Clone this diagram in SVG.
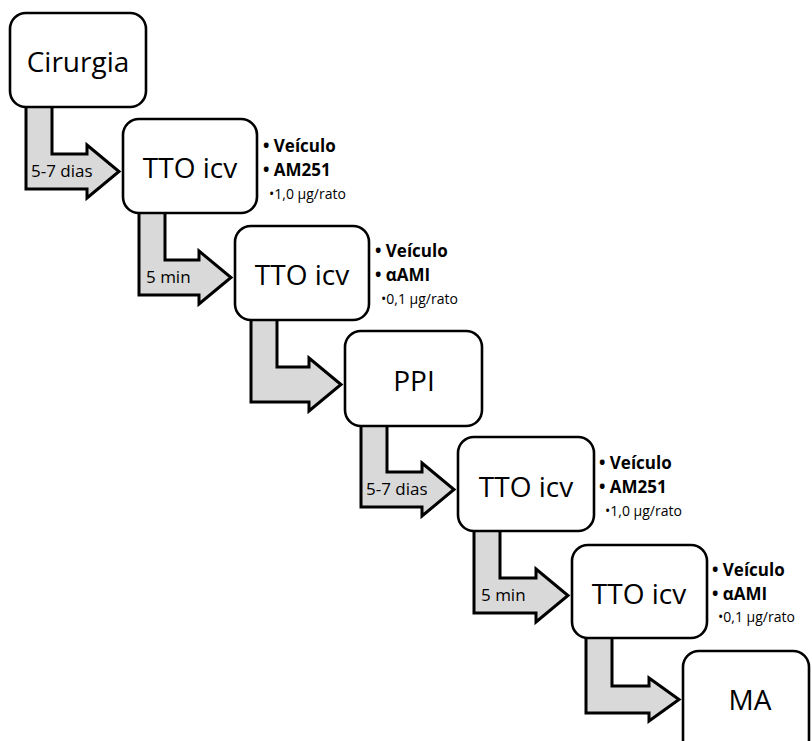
<svg xmlns="http://www.w3.org/2000/svg" width="812" height="741" viewBox="0 0 812 741">
  <style>
    .box { fill: #ffffff; stroke: #000000; stroke-width: 2.6; }
    .flow { fill: #d9d9d9; stroke: #000000; stroke-width: 3; stroke-linejoin: miter; }
    .lbl { font-family: "Open Sans", "Noto Sans", sans-serif; font-size: 28px; fill: #000000; text-anchor: middle; }
    .step { font-family: "Open Sans", "Noto Sans", sans-serif; font-size: 17px; fill: #000000; }
    .drug { font-family: "Open Sans", "Noto Sans", sans-serif; font-size: 17px; font-weight: 700; fill: #000000; }
    .dose { font-family: "Open Sans", "Noto Sans", sans-serif; font-size: 14px; fill: #000000; }
  </style>

  <!-- bent flow arrows between consecutive steps -->
  <g id="connectors">
    <polygon class="flow" points="26,103 52,103 52,154 87,154 87,145 119,171.5 87,198 87,189 26,189"/>
    <polygon class="flow" points="139,209 165,209 165,260 199,260 199,251 231,277.5 199,304 199,295 139,295"/>
    <polygon class="flow" points="251,316 277,316 277,367 309,367 309,358 341,384.5 309,411 309,402 251,402"/>
    <polygon class="flow" points="361,421 387,421 387,472 422,472 422,463 454,489.5 422,516 422,507 361,507"/>
    <polygon class="flow" points="474,527 500,527 500,578 536,578 536,569 568,595.5 536,622 536,613 474,613"/>
    <polygon class="flow" points="586,630 612,630 612,686 649,686 649,678 679,699.5 649,721 649,713 586,713"/>
    <text class="step" x="31" y="177">5-7 dias</text>
    <text class="step" x="146" y="283">5 min</text>
    <text class="step" x="366" y="495">5-7 dias</text>
    <text class="step" x="481" y="601">5 min</text>
  </g>

  <g id="cirurgia">
    <rect class="box" x="10" y="13" width="136" height="94" rx="16"/>
    <text class="lbl" x="78" y="72">Cirurgia</text>
  </g>

  <g id="tto1">
    <rect class="box" x="123" y="119" width="134" height="94" rx="16"/>
    <text class="lbl" x="190" y="178">TTO icv</text>
    <text class="drug" x="263" y="152">• Veículo</text>
    <text class="drug" x="263" y="176">• AM251</text>
    <text class="dose" x="269" y="199">•1,0 µg/rato</text>
  </g>

  <g id="tto2">
    <rect class="box" x="235" y="226" width="134" height="94" rx="16"/>
    <text class="lbl" x="302" y="285">TTO icv</text>
    <text class="drug" x="375" y="257">• Veículo</text>
    <text class="drug" x="375" y="281">• αAMI</text>
    <text class="dose" x="381" y="304">•0,1 µg/rato</text>
  </g>

  <g id="ppi">
    <rect class="box" x="345" y="331" width="137" height="95" rx="16"/>
    <text class="lbl" x="414" y="391">PPI</text>
  </g>

  <g id="tto3">
    <rect class="box" x="458" y="437" width="136" height="94" rx="16"/>
    <text class="lbl" x="526" y="497">TTO icv</text>
    <text class="drug" x="599" y="469">• Veículo</text>
    <text class="drug" x="599" y="493">• AM251</text>
    <text class="dose" x="605" y="516">•1,0 µg/rato</text>
  </g>

  <g id="tto4">
    <rect class="box" x="572" y="545" width="135" height="93" rx="16"/>
    <text class="lbl" x="639" y="604">TTO icv</text>
    <text class="drug" x="712" y="576">• Veículo</text>
    <text class="drug" x="712" y="600">• αAMI</text>
    <text class="dose" x="718" y="622">•0,1 µg/rato</text>
  </g>

  <g id="ma">
    <rect class="box" x="683" y="651" width="126" height="110" rx="16"/>
    <text class="lbl" x="750" y="710">MA</text>
  </g>
</svg>
